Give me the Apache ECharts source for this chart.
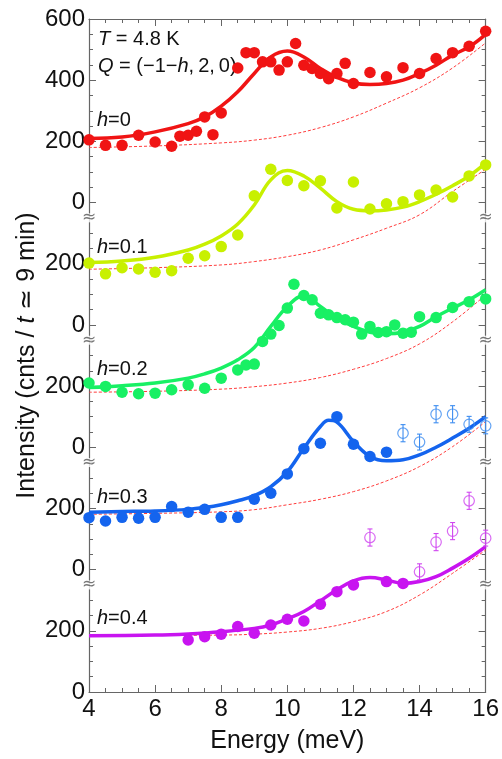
<!DOCTYPE html>
<html>
<head>
<meta charset="utf-8">
<script src="https://cdn.jsdelivr.net/npm/echarts@6/dist/echarts.min.js"></script>
<style>
html,body{margin:0;padding:0;background:#fff;}
#chart{width:502px;height:759px;}
</style>
</head>
<body>
<div id="chart"></div>
<script>
// ---------- DATA ----------
const panelNames = ['0', '0.1', '0.2', '0.3', '0.4'];
const panelOffsets = [1600, 1200, 800, 400, 0];
const panelLabelMax = [600, 200, 200, 200, 200];
const breakGap = 50;
const yTickValues = [0, 200, 400, 600];
const xTicks = [4, 6, 8, 10, 12, 14, 16];

// h = 0
const E0 = [4, 4.5, 5, 5.5, 6, 6.5, 6.75, 7, 7.25, 7.5, 7.75, 8, 8.5, 8.75, 9, 9.25, 9.5, 9.75, 10, 10.25, 10.5, 10.75, 11, 11.25, 11.5, 11.75, 12, 12.5, 13, 13.5, 14, 14.5, 15, 15.5, 16];
const I0 = [205, 187, 187, 220, 198, 184, 217, 220, 233, 280, 222, 293, 440, 490, 490, 460, 460, 433, 460, 520, 449, 438, 422, 405, 422, 455, 389, 425, 411, 441, 422, 471, 490, 511, 560];
const F0E = [4, 5, 6, 7, 7.5, 8, 8.5, 9, 9.5, 10, 10.5, 11, 11.5, 12, 12.5, 13, 13.5, 14, 14.5, 15, 15.5, 16];
const F0 = [209, 214, 231, 258, 280, 315, 362, 422, 476, 495, 476, 438, 409, 391, 386, 389, 400, 422, 449, 482, 509, 550];
const B0E = [4, 6, 8, 9, 10, 11, 12, 13, 14, 15, 16];
const B0 = [180, 185, 195, 204, 220, 245, 280, 325, 375, 440, 522];

// h = 0.1
const E1 = [4, 4.5, 5, 5.5, 6, 6.5, 7, 7.5, 8, 8.5, 9, 9.5, 10, 10.5, 11, 11.5, 12, 12.5, 13, 13.5, 14, 14.5, 15, 15.5, 16];
const I1 = [202, 167, 187, 183, 172, 177, 218, 226, 256, 294, 422, 509, 472, 455, 471, 382, 467, 379, 396, 403, 425, 441, 418, 487, 523];
const F1E = [4, 5, 6, 7, 7.5, 8, 8.5, 9, 9.5, 10, 10.5, 11, 11.5, 12, 12.5, 13, 13.5, 14, 14.5, 15, 15.5, 16];
const F1 = [204, 209, 221, 245, 264, 291, 330, 392, 474, 505, 487, 447, 403, 378, 373, 376, 385, 403, 427, 455, 487, 529];
const B1E = [4, 6, 8, 9, 10, 11, 12, 13, 14, 15, 16];
const B1 = [182, 187, 196, 207, 223, 245, 278, 316, 360, 436, 509];

// h = 0.2
const E2 = [4, 4.5, 5, 5.5, 6, 6.5, 7, 7.5, 8, 8.5, 8.75, 9, 9.25, 9.5, 9.75, 10, 10.2, 10.5, 10.75, 11, 11.25, 11.5, 11.75, 12, 12.25, 12.5, 12.75, 13, 13.25, 13.5, 13.75, 14, 14.5, 15, 15.5, 16];
const I2 = [210, 199, 180, 175, 177, 188, 204, 193, 226, 253, 269, 272, 346, 370, 398, 455, 533, 496, 482, 438, 433, 424, 417, 409, 370, 395, 375, 378, 400, 373, 376, 427, 424, 457, 476, 485];
const F2E = [4, 5, 6, 7, 7.5, 8, 8.5, 9, 9.5, 10, 10.5, 11, 11.5, 12, 12.5, 13, 13.5, 14, 14.5, 15, 15.5, 16];
const F2 = [195, 201, 210, 226, 240, 259, 286, 326, 395, 460, 496, 460, 422, 395, 376, 371, 376, 395, 427, 455, 482, 515];
const B2E = [4, 6, 8, 9, 10, 11, 12, 13, 14, 15, 16];
const B2 = [180, 183, 190, 198, 210, 228, 255, 290, 338, 410, 498];

// h = 0.3
const E3 = [4, 4.5, 5, 5.5, 6, 6.5, 7, 7.5, 8, 8.5, 9, 9.5, 10, 10.5, 11, 11.5, 12, 12.5, 13];
const I3 = [170, 159, 171, 168, 171, 206, 188, 197, 171, 171, 230, 250, 313, 395, 413, 500, 410, 370, 384];
const E3o = [13.5, 14, 14.5, 15, 15.5, 16];
const I3o = [446, 417, 508, 508, 475, 470];
const I3oErr = [28, 26, 28, 28, 26, 26];
const F3E = [4, 5, 6, 7, 7.5, 8, 8.5, 9, 9.5, 10, 10.5, 11, 11.25, 11.5, 12, 12.5, 13, 13.5, 14, 14.5, 15, 15.5, 16];
const F3 = [188, 190, 192, 197, 203, 212, 225, 242, 271, 320, 397, 468, 488, 482, 419, 370, 356, 359, 375, 400, 430, 462, 500];
const B3E = [4, 6, 8, 9, 10, 11, 12, 13, 14, 15, 16];
const B3 = [181, 184, 189, 196, 212, 230, 255, 290, 337, 402, 484];

// h = 0.4
const E4 = [7, 7.5, 8, 8.5, 9, 9.5, 10, 10.5, 11, 11.5, 12, 13, 13.5];
const I4 = [170, 181, 189, 214, 192, 219, 238, 232, 287, 328, 350, 361, 355];
const E4o = [12.5, 14, 14.5, 15, 15.5, 16];
const I4o = [505, 393, 490, 526, 625, 503];
const I4oErr = [28, 26, 28, 28, 28, 26];
const F4E = [4, 6, 7, 8, 9, 9.5, 10, 10.5, 11, 11.5, 12, 12.5, 13, 13.5, 14, 14.5, 15, 15.5, 16];
const F4 = [184, 186, 190, 197, 208, 219, 239, 263, 298, 334, 363, 374, 366, 355, 361, 377, 405, 437, 475];
const B4E = [4, 6, 8, 9, 10, 11, 12, 13, 14, 15, 16];
const B4 = [184, 185, 186, 189, 196, 208, 230, 263, 317, 388, 464];

const panelColors = ['#f01414', '#c8f000', '#18f064', '#1464ee', '#c814f0'];
const openColors = [null, null, null, '#3c8cf0', '#d046f0'];

// ---------- BUILD ----------
const FONT = '"Liberation Sans", Arial, Helvetica, sans-serif';
const axisColor = '#666';
const zip = (xs, ys) => xs.map((x, i) => [x, ys[i]]);

const panels = [
  {E: E0, I: I0, FE: F0E, F: F0, BE: B0E, B: B0},
  {E: E1, I: I1, FE: F1E, F: F1, BE: B1E, B: B1},
  {E: E2, I: I2, FE: F2E, F: F2, BE: B2E, B: B2},
  {E: E3, I: I3, FE: F3E, F: F3, BE: B3E, B: B3, Eo: E3o, Io: I3o, Err: I3oErr},
  {E: E4, I: I4, FE: F4E, F: F4, BE: B4E, B: B4, Eo: E4o, Io: I4o, Err: I4oErr}
];

const totalMax = 2200;

const yAxes = panelOffsets.map((off, i) => ({
  type: 'value',
  min: -off,
  max: totalMax - off,
  interval: 200,
  position: 'left',
  axisLine: {show: false, onZero: false},
  axisTick: {show: false},
  splitLine: {show: false},
  axisLabel: {
    show: true,
    fontSize: 24,
    color: '#111',
    fontFamily: FONT,
    margin: 4,
    formatter: v => (v >= 0 && v <= panelLabelMax[i] && yTickValues.indexOf(v) >= 0) ? String(v) : ''
  }
}));
// frame axes (ticks only)
const frameAxis = (pos) => ({
  type: 'value',
  min: 0, max: totalMax, interval: 200,
  position: pos,
  axisLine: {show: true, onZero: false, lineStyle: {color: axisColor, width: 1.2}},
  axisTick: {show: true, inside: true, length: 7, lineStyle: {color: axisColor}},
  minorTick: {show: true, splitNumber: 4, length: 4, lineStyle: {color: axisColor}},
  splitLine: {show: false},
  axisLabel: {show: false}
});
yAxes.push(Object.assign(frameAxis('left'), {
  name: 'Intensity (cnts / {i|t} ≃ 9 min)',
  nameLocation: 'middle',
  nameGap: 49,
  nameTextStyle: {fontSize: 25, color: '#111', fontFamily: FONT,
    rich: {i: {fontSize: 25, fontStyle: 'italic', color: '#111', fontFamily: FONT}}}
}));
yAxes.push(frameAxis('right'));
const FRAME = panelOffsets.length;

const xAxes = [
  {
    type: 'value', min: xTicks[0], max: xTicks[xTicks.length - 1], interval: 2, position: 'bottom',
    axisLine: {show: true, onZero: false, lineStyle: {color: axisColor, width: 1.2}},
    axisTick: {show: true, inside: true, length: 7, lineStyle: {color: axisColor}},
    minorTick: {show: true, splitNumber: 4, length: 4, lineStyle: {color: axisColor}},
    splitLine: {show: false},
    axisLabel: {fontSize: 24, color: '#111', fontFamily: FONT, margin: 5},
    name: 'Energy (meV)', nameLocation: 'middle', nameGap: 37,
    nameTextStyle: {fontSize: 25, color: '#111', fontFamily: FONT}
  },
  {
    type: 'value', min: xTicks[0], max: xTicks[xTicks.length - 1], interval: 2, position: 'top',
    axisLine: {show: true, onZero: false, lineStyle: {color: axisColor, width: 1.2}},
    axisTick: {show: true, inside: true, length: 7, lineStyle: {color: axisColor}},
    minorTick: {show: true, splitNumber: 4, length: 4, lineStyle: {color: axisColor}},
    splitLine: {show: false},
    axisLabel: {show: false}
  }
];

const series = [];
panels.forEach((p, i) => {
  const c = panelColors[i];
  series.push({
    type: 'line', xAxisIndex: 0, yAxisIndex: i, data: zip(p.BE, p.B),
    smooth: 0.4, showSymbol: false, silent: true, z: 1,
    lineStyle: {color: '#ff3c3c', width: 1, type: [3, 2]}
  });
  series.push({
    type: 'line', xAxisIndex: 0, yAxisIndex: i, data: zip(p.FE, p.F),
    smooth: 0.4, showSymbol: false, silent: true, z: 2,
    lineStyle: {color: c, width: 3.5}
  });
  series.push({
    type: 'scatter', xAxisIndex: 0, yAxisIndex: i, data: zip(p.E, p.I),
    symbol: 'circle', symbolSize: 11.5, z: 3,
    itemStyle: {color: c, opacity: 1}
  });
  if (p.Eo) {
    const oc = openColors[i];
    series.push({
      type: 'custom', xAxisIndex: 0, yAxisIndex: i, z: 3,
      data: p.Eo.map((x, k) => [x, p.Io[k], p.Err[k]]),
      renderItem: (params, api) => {
        const x = api.value(0), y = api.value(1), e = api.value(2);
        const top = api.coord([x, y + e]);
        const bot = api.coord([x, y - e]);
        const cw = 2.5;
        return {
          type: 'group',
          children: [
            {type: 'line', shape: {x1: top[0], y1: top[1], x2: bot[0], y2: bot[1]}, style: {stroke: oc, lineWidth: 1.1}},
            {type: 'line', shape: {x1: top[0] - cw, y1: top[1], x2: top[0] + cw, y2: top[1]}, style: {stroke: oc, lineWidth: 1.1}},
            {type: 'line', shape: {x1: bot[0] - cw, y1: bot[1], x2: bot[0] + cw, y2: bot[1]}, style: {stroke: oc, lineWidth: 1.1}}
          ]
        };
      }
    });
    series.push({
      type: 'scatter', xAxisIndex: 0, yAxisIndex: i, data: zip(p.Eo, p.Io),
      symbol: 'circle', symbolSize: 10.5, z: 4,
      itemStyle: {color: 'rgba(255,255,255,0)', borderColor: oc, borderWidth: 1.2}
    });
  }
});

// axis-break symbols
const breakData = [];
panelOffsets.forEach(o => {
  if (o > 0) {
    breakData.push([xTicks[0], o - breakGap]);
    breakData.push([xTicks[xTicks.length - 1], o - breakGap]);
  }
});
series.push({
  type: 'scatter', xAxisIndex: 0, yAxisIndex: FRAME, data: breakData,
  symbolSize: 1, itemStyle: {color: 'rgba(0,0,0,0)'}, silent: true, z: 10, clip: false,
  label: {show: true, position: 'inside', formatter: '≈', fontSize: 17, color: '#555',
    fontFamily: '"DejaVu Sans", sans-serif', backgroundColor: '#fff', lineHeight: 9, padding: [0, 0]}
});

// text annotations
const panelLabelY = [122, 249, 371, 499, 620];
const graphics = [
  {type: 'text', left: 98, top: 29, style: {text: '{i|T} = 4.8 K', font: '20px ' + FONT, fill: '#111',
    rich: {i: {fontStyle: 'italic', fontSize: 20, fontFamily: FONT, fill: '#111'}}}},
  {type: 'text', left: 98, top: 56, style: {text: '{i|Q} = (\u22121\u2212{i|h},\u20092,\u20090)', font: '20px ' + FONT, fill: '#111',
    rich: {i: {fontStyle: 'italic', fontSize: 20, fontFamily: FONT, fill: '#111'}}}}
];
panelNames.forEach((n, i) => {
  graphics.push({type: 'text', left: 97, top: panelLabelY[i] - 12,
    style: {text: '{i|h}=' + n, font: '20px ' + FONT, fill: '#111',
      rich: {i: {fontStyle: 'italic', fontSize: 20, fontFamily: FONT, fill: '#111'}}}});
});

const chart = echarts.init(document.getElementById('chart'), null, {renderer: 'canvas'});
chart.setOption({
  animation: false,
  backgroundColor: '#fff',
  textStyle: {fontFamily: FONT},
  grid: {left: 89, right: 16, top: 19, bottom: 67, containLabel: false},
  xAxis: xAxes,
  yAxis: yAxes,
  series: series,
  graphic: graphics
});
</script>
</body>
</html>
